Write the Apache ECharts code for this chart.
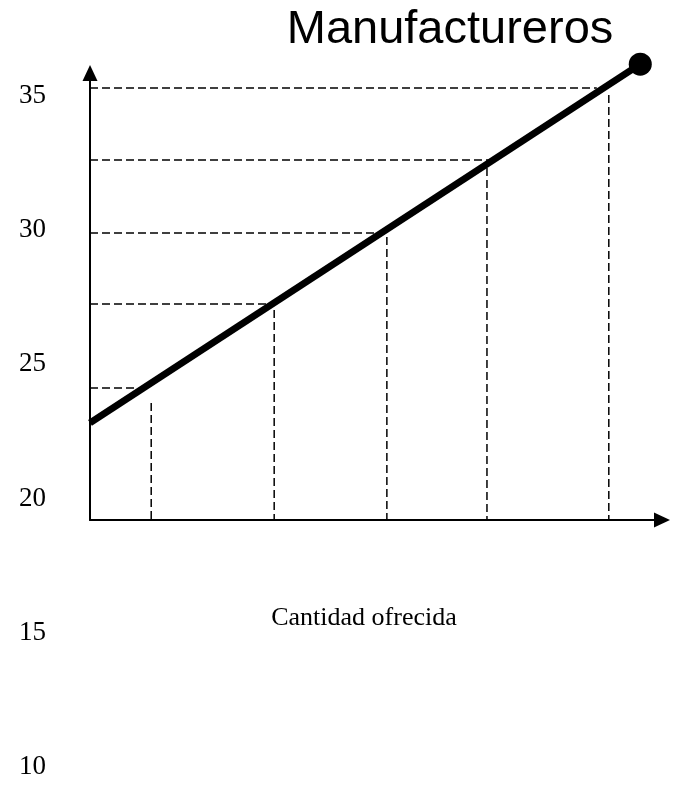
<!DOCTYPE html>
<html>
<head>
<meta charset="utf-8">
<script src="https://cdn.jsdelivr.net/npm/echarts@6/dist/echarts.min.js"></script>
<style>
html,body{margin:0;padding:0;background:#fff;}
#chart{width:679px;height:793px;}
</style>
</head>
<body>
<div id="chart"></div>
<script>
// Texts
const titleText = 'Manufactureros';
const xAxisTitle = 'Cantidad ofrecida';
// Price tick labels (left scale)
const priceTicks = [10, 15, 20, 25, 30, 35];
// Supply line (quantity, price)
const supplyQty = [0, 96.2];
const supplyPrice = [22.82, 36.19];
// Horizontal dashed guides: price level and where they end (quantity)
const guidePrice = [35.30, 32.62, 29.90, 27.25, 24.12];
const guideEndQty = [88.6, 70.5, 50.9, 31.8, 8.4];
// Vertical dashed guides: quantity and the price where they start
const dropQty = [90.7, 69.4, 51.9, 32.2, 10.7];
const dropTopPrice = [35.04, 32.32, 29.75, 27.03, 23.56];
// Plot ranges
const qtyMin = 0, qtyMax = 100;
const priceMin = 19.2, priceMax = 35.86;

const chart = echarts.init(document.getElementById('chart'), null, {renderer: 'canvas'});

const dashStyle = {color: '#000', width: 1.5, type: [8, 4]};
const series = [];
guidePrice.forEach((p, i) => {
  series.push({
    type: 'line', xAxisIndex: 1, yAxisIndex: 1, symbol: 'none', silent: true,
    lineStyle: dashStyle, data: [[qtyMin, p], [guideEndQty[i], p]], z: 2
  });
});
dropQty.forEach((q, i) => {
  series.push({
    type: 'line', xAxisIndex: 1, yAxisIndex: 1, symbol: 'none', silent: true,
    lineStyle: dashStyle, data: [[q, dropTopPrice[i]], [q, priceMin]], z: 2
  });
});
series.push({
  type: 'line', xAxisIndex: 1, yAxisIndex: 1, clip: false, z: 5,
  lineStyle: {color: '#000', width: 7},
  itemStyle: {color: '#000'},
  data: [
    {value: [supplyQty[0], supplyPrice[0]], symbol: 'none'},
    {value: [supplyQty[1], supplyPrice[1]], symbol: 'circle', symbolSize: 23}
  ]
});

chart.setOption({
  animation: false,
  backgroundColor: '#fff',
  grid: [
    {left: 46, right: 17, top: 96, bottom: 26},
    {left: 90, right: 17, top: 73, bottom: 273}
  ],
  xAxis: [
    {gridIndex: 0, type: 'value', show: false, min: qtyMin, max: qtyMax},
    {gridIndex: 1, type: 'value', min: qtyMin, max: qtyMax,
     axisLine: {show: true, onZero: false, lineStyle: {color: '#000', width: 2},
                symbol: ['none', 'triangle'], symbolSize: [15, 16]},
     axisTick: {show: false}, axisLabel: {show: false}, splitLine: {show: false}}
  ],
  yAxis: [
    {gridIndex: 0, type: 'value', min: 10, max: 35, interval: 5,
     axisLine: {show: false}, axisTick: {show: false}, splitLine: {show: false},
     axisLabel: {show: true, margin: 0, color: '#000', fontSize: 27,
                 fontFamily: 'Liberation Serif',
                 formatter: v => priceTicks.includes(v) ? String(v) : ''}},
    {gridIndex: 1, type: 'value', min: priceMin, max: priceMax,
     axisLine: {show: true, onZero: false, lineStyle: {color: '#000', width: 2},
                symbol: ['none', 'triangle'], symbolSize: [15, 16]},
     axisTick: {show: false}, axisLabel: {show: false}, splitLine: {show: false}}
  ],
  graphic: [
    {type: 'text', x: 450, y: 30, z: 10,
     style: {text: titleText, fill: '#000', font: '47px "Liberation Sans"',
             textAlign: 'center', textVerticalAlign: 'middle'}},
    {type: 'text', x: 364, y: 618, z: 10,
     style: {text: xAxisTitle, fill: '#000', font: '26px "Liberation Serif"',
             textAlign: 'center', textVerticalAlign: 'middle'}}
  ],
  series: series
});
</script>
</body>
</html>
